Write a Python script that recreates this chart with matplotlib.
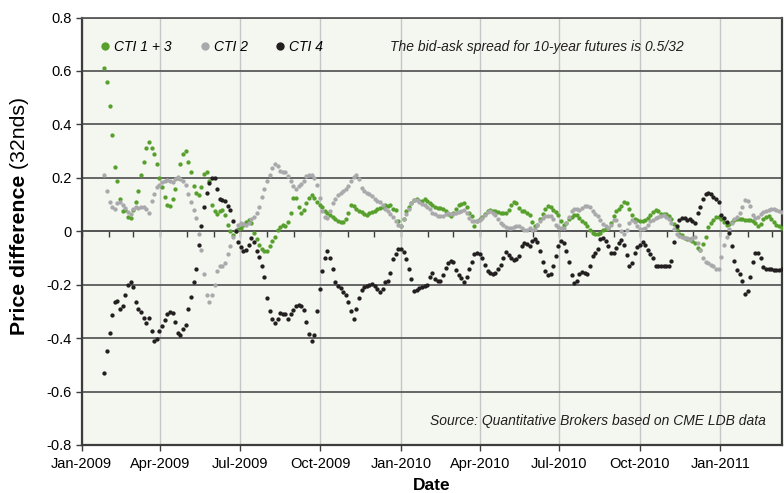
import numpy as np
import pandas as pd
import matplotlib
matplotlib.use("Agg")
import matplotlib.pyplot as plt
import matplotlib.dates as mdates
from matplotlib.lines import Line2D

plt.rcParams['font.family'] = ['Liberation Sans', 'DejaVu Sans']

# observations every 3 days starting 27 Jan 2009
start_date = "2009-01-27"
step_days = 3

cti13 = [
    0.61, 0.56, 0.47, 0.36, 0.24, 0.19, 0.12, 0.075, 0.08, 0.055,
    0.05, 0.08, 0.11, 0.15, 0.21, 0.26, 0.31, 0.335, 0.31, 0.29,
    0.25, 0.2, 0.165, 0.13, 0.1, 0.094, 0.12, 0.16, 0.2, 0.25,
    0.29, 0.30, 0.26, 0.22, 0.17, 0.145, 0.135, 0.165, 0.215, 0.22,
    0.19, 0.1, 0.075, 0.065, 0.075, 0.08, 0.06, 0.025, 0.0, -0.015,
    0.0, 0.01, 0.014, 0.025, 0.035, 0.044, 0.03, -0.006, -0.03, -0.053,
    -0.065, -0.075, -0.075, -0.055, -0.035, -0.02, 0.005, 0.015, 0.025, 0.02,
    0.035, 0.07, 0.125, 0.125, 0.09, 0.07, 0.078, 0.105, 0.125, 0.135,
    0.125, 0.11, 0.1, 0.09, 0.075, 0.068, 0.062, 0.053, 0.047, 0.04,
    0.033, 0.035, 0.045, 0.069, 0.1, 0.095, 0.082, 0.077, 0.072, 0.064,
    0.06, 0.068, 0.073, 0.076, 0.082, 0.087, 0.092, 0.1, 0.095, 0.098,
    0.085, 0.08, 0.04, 0.02, 0.045, 0.075, 0.09, 0.106, 0.118, 0.12,
    0.113, 0.115, 0.12, 0.112, 0.105, 0.1, 0.09, 0.087, 0.087, 0.082,
    0.075, 0.065, 0.058, 0.07, 0.083, 0.097, 0.103, 0.104, 0.092, 0.07,
    0.056, 0.02, 0.037, 0.045, 0.052, 0.065, 0.075, 0.078, 0.077, 0.075,
    0.073, 0.07, 0.069, 0.069, 0.08, 0.1, 0.109, 0.105, 0.087, 0.075,
    0.075, 0.068, 0.06, 0.035, 0.02, 0.025, 0.045, 0.066, 0.083, 0.095,
    0.092, 0.08, 0.072, 0.06, 0.04, 0.025, 0.03, 0.045, 0.055, 0.062,
    0.06, 0.05, 0.04, 0.032, 0.018, 0.005, -0.006, -0.01, -0.012, -0.006,
    0.006, 0.01, 0.014, 0.03, 0.056, 0.075, 0.085, 0.095, 0.11, 0.105,
    0.085, 0.06, 0.046, 0.044, 0.04, 0.038, 0.044, 0.05, 0.06, 0.072,
    0.078, 0.075, 0.066, 0.064, 0.063, 0.056, 0.045, 0.028, 0.008, -0.01,
    -0.015, -0.025, -0.03, -0.03, -0.038, -0.045, -0.062, -0.07, -0.048, -0.02,
    0.015, 0.03, 0.043, 0.053, 0.054, 0.045, 0.035, 0.025, 0.027, 0.036,
    0.044, 0.046, 0.046, 0.046, 0.044, 0.041, 0.044, 0.04, 0.03, 0.02,
    0.027, 0.045, 0.055, 0.056, 0.045, 0.035, 0.024, 0.018, 0.013,
]

cti2 = [
    0.21, 0.15, 0.11, 0.09, 0.082, 0.105, 0.11, 0.1, 0.087, 0.072,
    0.065, 0.085, 0.09, 0.088, 0.092, 0.09, 0.085, 0.07, 0.115, 0.14,
    0.165, 0.175, 0.183, 0.19, 0.192, 0.188, 0.185, 0.195, 0.205, 0.197,
    0.19, 0.172, 0.14, 0.11, 0.08, 0.05, -0.01, -0.07, -0.16, -0.24,
    -0.265, -0.24, -0.2, -0.15, -0.13, -0.13, -0.117, -0.085, -0.055, -0.02,
    0.005, 0.022, 0.03, 0.026, 0.022, 0.03, 0.045, 0.055, 0.068, 0.09,
    0.13, 0.158, 0.19, 0.21, 0.235, 0.253, 0.245, 0.225, 0.22, 0.22,
    0.207, 0.19, 0.17, 0.158, 0.17, 0.178, 0.19, 0.206, 0.212, 0.21,
    0.2, 0.175, 0.125, 0.077, 0.055, 0.05, 0.075, 0.105, 0.12, 0.135,
    0.143, 0.15, 0.158, 0.17, 0.188, 0.203, 0.211, 0.195, 0.162, 0.15,
    0.144, 0.138, 0.133, 0.12, 0.113, 0.11, 0.1, 0.085, 0.077, 0.065,
    0.052, 0.04, 0.025, 0.02, 0.045, 0.065, 0.085, 0.105, 0.118, 0.118,
    0.11, 0.103, 0.097, 0.092, 0.082, 0.07, 0.063, 0.058, 0.056, 0.056,
    0.066, 0.07, 0.066, 0.063, 0.068, 0.073, 0.077, 0.078, 0.07, 0.05,
    0.04, 0.038, 0.038, 0.043, 0.05, 0.06, 0.073, 0.075, 0.07, 0.06,
    0.045, 0.03, 0.025, 0.015, 0.013, 0.014, 0.016, 0.021, 0.02, 0.012,
    0.006, 0.006, 0.012, 0.006, 0.01, 0.025, 0.04, 0.05, 0.056, 0.056,
    0.056, 0.045, 0.025, 0.015, 0.012, 0.013, 0.03, 0.055, 0.075, 0.082,
    0.082, 0.08, 0.087, 0.093, 0.095, 0.09, 0.075, 0.065, 0.058, 0.044,
    0.028, 0.02, 0.013, 0.025, 0.044, 0.044, 0.025, 0.0, -0.01, 0.005,
    0.03, 0.042, 0.035, 0.02, 0.01, 0.007, 0.012, 0.025, 0.038, 0.044,
    0.05, 0.055, 0.058, 0.06, 0.055, 0.045, 0.03, 0.01, -0.01, -0.018,
    -0.022, -0.025, -0.025, -0.032, -0.025, -0.02, -0.045, -0.07, -0.1, -0.115,
    -0.12, -0.125, -0.131, -0.14, -0.14, -0.095, -0.05, -0.02, 0.01, 0.03,
    0.045, 0.055, 0.07, 0.09, 0.117, 0.115, 0.095, 0.06, 0.05, 0.055,
    0.065, 0.071, 0.075, 0.08, 0.083, 0.082, 0.08, 0.075, 0.072,
]

cti4 = [
    -0.53, -0.45, -0.38, -0.315, -0.265, -0.26, -0.29, -0.28, -0.24, -0.2,
    -0.19, -0.21, -0.265, -0.29, -0.304, -0.325, -0.344, -0.326, -0.375, -0.41,
    -0.405, -0.375, -0.355, -0.333, -0.31, -0.304, -0.306, -0.34, -0.38, -0.39,
    -0.365, -0.352, -0.29, -0.245, -0.19, -0.14, -0.05, 0.02, 0.09, 0.145,
    0.18, 0.2, 0.2, 0.16, 0.12, 0.118, 0.115, 0.095, 0.08, 0.04,
    0.0, -0.04, -0.058, -0.072, -0.07, -0.05, -0.027, -0.04, -0.075, -0.095,
    -0.13, -0.17, -0.25, -0.3, -0.327, -0.345, -0.33, -0.306, -0.31, -0.31,
    -0.33, -0.31, -0.294, -0.28, -0.276, -0.28, -0.295, -0.34, -0.385, -0.41,
    -0.39, -0.3, -0.215, -0.147, -0.1, -0.072, -0.1, -0.14, -0.19, -0.205,
    -0.214, -0.226, -0.24, -0.265, -0.3, -0.33, -0.29, -0.25, -0.22, -0.208,
    -0.205, -0.2, -0.196, -0.205, -0.215, -0.228, -0.215, -0.19, -0.188, -0.157,
    -0.105, -0.085, -0.065, -0.065, -0.078, -0.105, -0.14, -0.18, -0.225, -0.22,
    -0.214, -0.21, -0.205, -0.2, -0.17, -0.158, -0.18, -0.186, -0.185, -0.165,
    -0.138, -0.12, -0.112, -0.115, -0.145, -0.163, -0.174, -0.19, -0.17, -0.14,
    -0.115, -0.085, -0.081, -0.085, -0.1, -0.125, -0.147, -0.156, -0.159, -0.155,
    -0.14, -0.127, -0.1, -0.079, -0.088, -0.1, -0.106, -0.102, -0.092, -0.056,
    -0.044, -0.047, -0.055, -0.038, -0.03, -0.04, -0.075, -0.115, -0.15, -0.165,
    -0.16, -0.13, -0.094, -0.056, -0.037, -0.045, -0.075, -0.115, -0.163, -0.194,
    -0.185, -0.16, -0.152, -0.158, -0.16, -0.13, -0.094, -0.08, -0.065, -0.028,
    -0.024, -0.035, -0.055, -0.08, -0.08, -0.063, -0.045, -0.033, -0.05, -0.09,
    -0.13, -0.12, -0.08, -0.06, -0.05, -0.042, -0.05, -0.07, -0.085, -0.1,
    -0.13, -0.131, -0.131, -0.131, -0.131, -0.129, -0.11, -0.04, 0.02, 0.043,
    0.05, 0.048, 0.044, 0.046, 0.038, 0.031, 0.07, 0.09, 0.12, 0.14,
    0.145, 0.14, 0.13, 0.122, 0.11, 0.06, 0.05, 0.035, -0.005, -0.055,
    -0.11, -0.145, -0.16, -0.185, -0.235, -0.225, -0.17, -0.115, -0.082, -0.083,
    -0.1, -0.135, -0.14, -0.141, -0.142, -0.144, -0.145, -0.145, -0.143,
]

series_names = ["CTI 1 + 3", "CTI 2", "CTI 4"]
series_colors = ["#58a02e", "#a9a9ac", "#231f20"]

quarter_ticks = pd.date_range("2009-01-01", "2011-01-01", freq="QS")
month_ticks = pd.date_range("2009-01-01", "2011-03-01", freq="MS")
x_min, x_max = pd.Timestamp("2009-01-01"), pd.Timestamp("2011-03-12")
y_ticks = [-0.8, -0.6, -0.4, -0.2, 0, 0.2, 0.4, 0.6, 0.8]
y_labels = ["-0.8", "-0.6", "-0.4", "-0.2", "0", "0.2", "0.4", "0.6", "0.8"]

note_text = "The bid-ask spread for 10-year futures is 0.5/32"
source_text = "Source: Quantitative Brokers based on CME LDB data"

fig = plt.figure(figsize=(7.84, 4.93), dpi=100)
ax = fig.add_axes([0.104, 0.0974, 0.893, 0.867])
ax.set_facecolor("#f4f7f0")

handles = []
for vals, name, col in zip([cti13, cti2, cti4], series_names, series_colors):
    dates = pd.Timestamp(start_date) + pd.to_timedelta(np.arange(len(vals)) * step_days, unit="D")
    ax.plot(dates, vals, linestyle="none", marker="o", ms=3.1, mec="none", mfc=col, zorder=3)
    handles.append(Line2D([], [], linestyle="none", marker="o", ms=6, mec="none", mfc=col, label=name))

ax.set_xlim(x_min, x_max)
ax.set_ylim(-0.8, 0.8)
ax.set_yticks(y_ticks)
ax.set_yticklabels(y_labels)
ax.set_xticks(quarter_ticks)
ax.xaxis.set_major_formatter(mdates.DateFormatter("%b-%Y"))

ax.grid(axis="y", color="#5a5a5a", lw=1.3, zorder=1)
ax.grid(axis="x", color="#c6c6c6", lw=1.0, zorder=1)
ax.set_axisbelow(True)
for s in ["left", "right", "bottom"]:
    ax.spines[s].set_color("#3c3c3c")
    ax.spines[s].set_linewidth(1.6)
ax.spines["top"].set_color("#5a5a5a")
ax.spines["top"].set_linewidth(1.3)

ax.tick_params(axis="both", labelsize=10.5, color="#3c3c3c", length=4, width=1)
ax.tick_params(axis="x", pad=5)
ax.tick_params(axis="y", pad=3)

# monthly ticks hanging from the zero line
sec = ax.secondary_xaxis(0, transform=ax.transData)
sec.set_xticks(month_ticks)
sec.tick_params(axis="x", labelbottom=False, length=4, width=1, color="#3c3c3c", direction="out")
sec.spines["bottom"].set_color("#3c3c3c")
sec.spines["bottom"].set_linewidth(1.3)

leg = ax.legend(handles=handles, loc="center left", bbox_to_anchor=(0.017, 0.931), ncol=3,
                frameon=False, prop={"style": "italic", "size": 10}, handletextpad=0.2,
                columnspacing=1.9, handlelength=0.9, borderaxespad=0)

ax.text(0.44, 0.931, note_text, transform=ax.transAxes, ha="left", va="center",
        fontstyle="italic", fontsize=10, color="#231f20")
ax.text(0.977, 0.055, source_text, transform=ax.transAxes, ha="right", va="center",
        fontstyle="italic", fontsize=10, color="#231f20")

ax.set_xlabel("Date", fontsize=12.5, fontweight="bold", labelpad=5)

t1 = fig.text(0.0255, 0.3205, "Price difference", rotation=90, fontsize=15.3,
              fontweight="bold", ha="center", va="bottom")
ax.annotate(" (32nds)", xy=(0.5, 1.0), xycoords=t1, rotation=90, fontsize=15.3,
            ha="center", va="bottom")

fig.savefig("out.png", dpi=100)
